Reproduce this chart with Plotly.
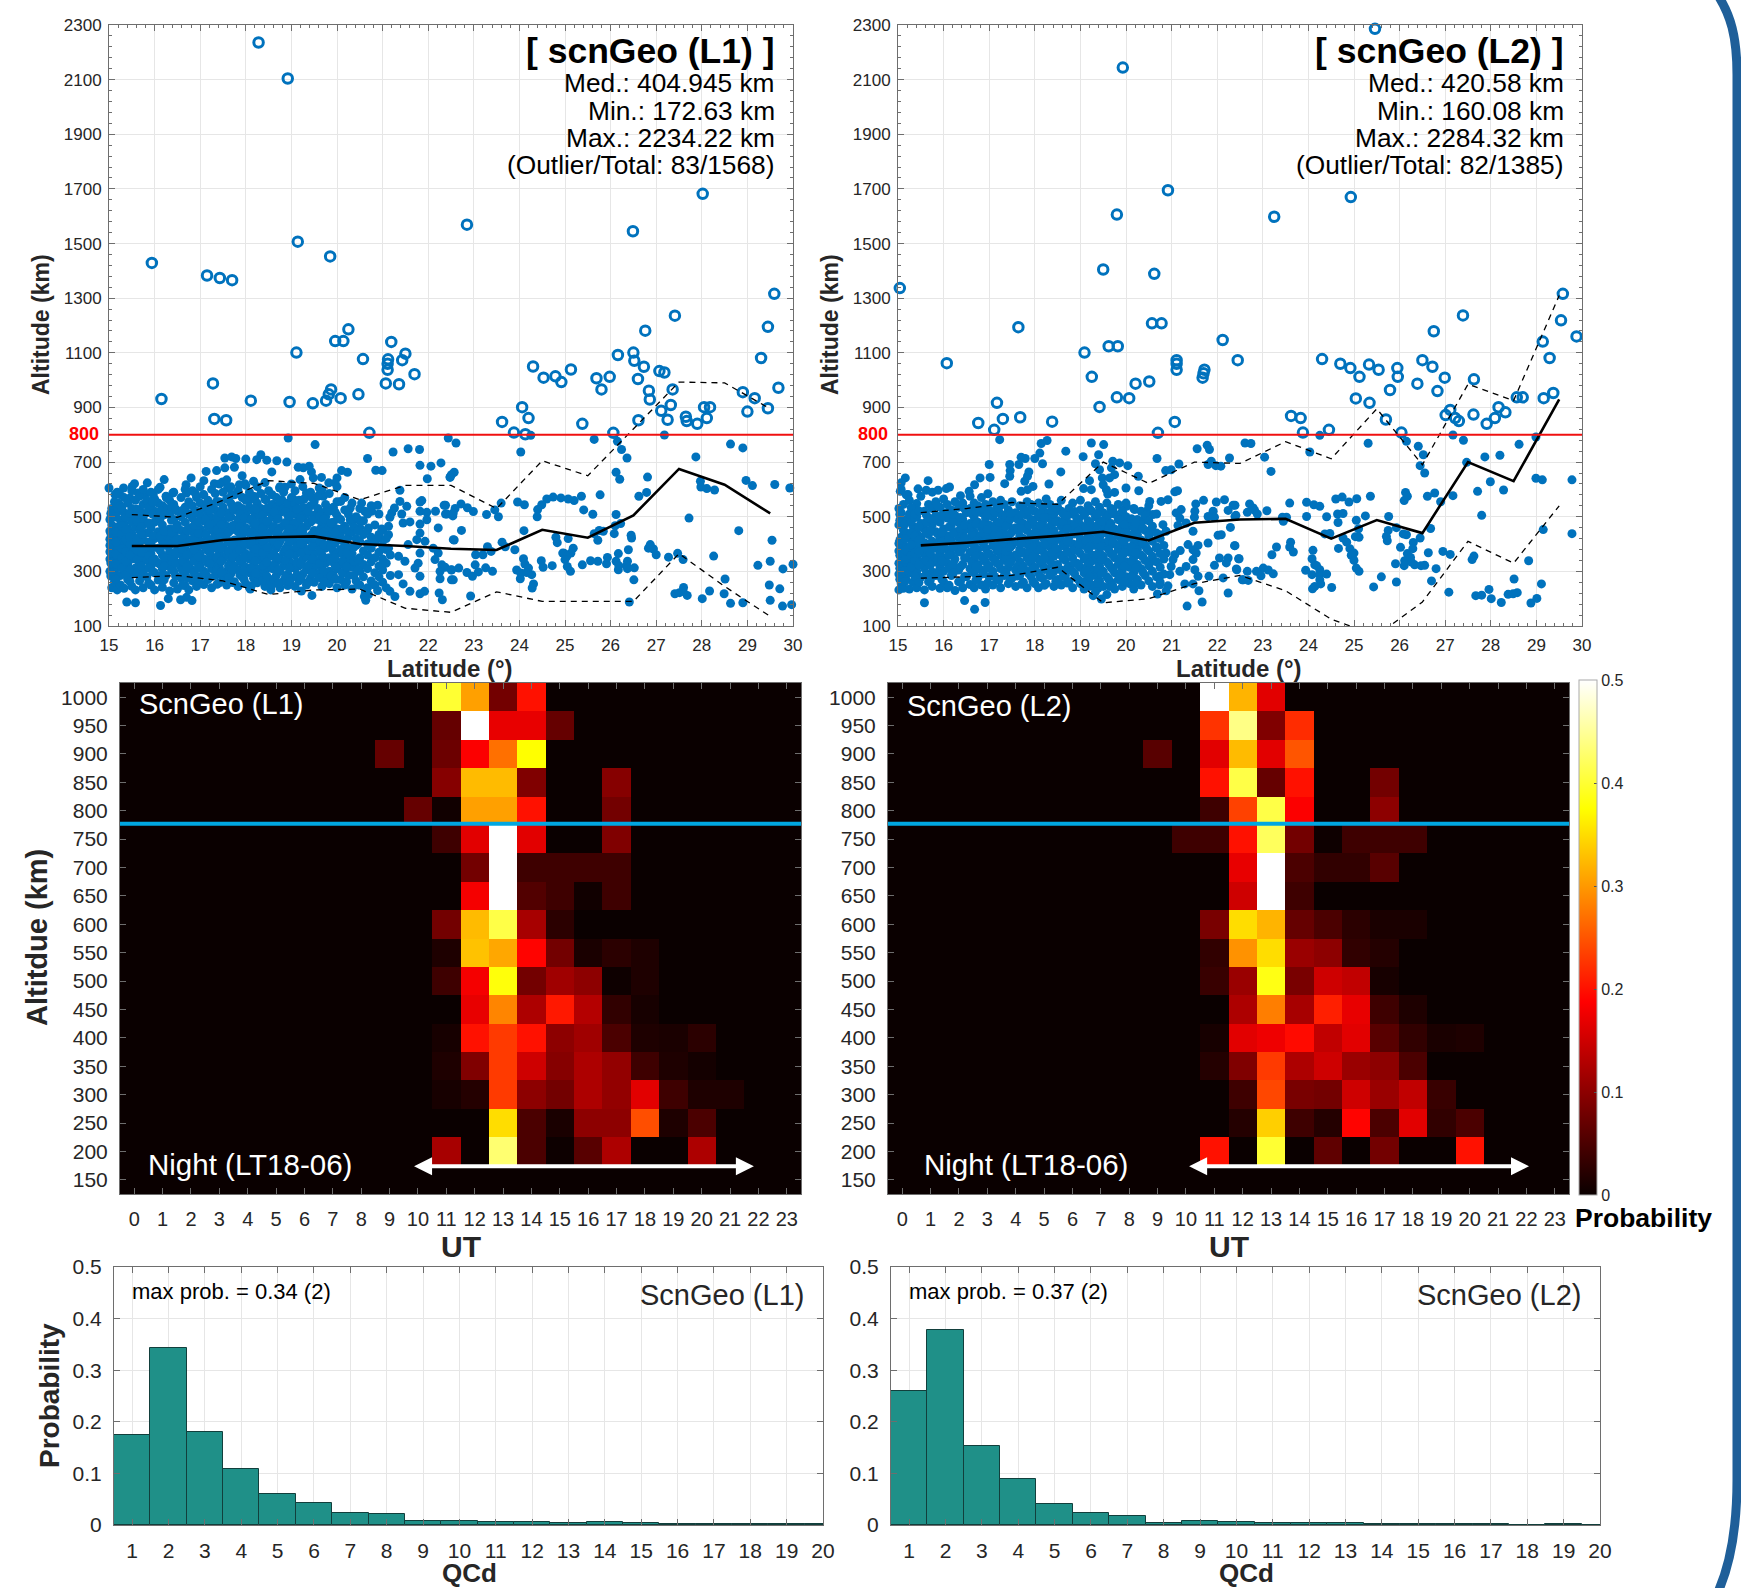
import plotly.graph_objects as go

W, H = 1741, 1588
FONT = "Liberation Sans"

# ---------- latitude / altitude scatter: outliers (open circles) ----------
L1_OUT = [(18.28,2236),(18.92,2104),(15.94,1429),(17.15,1383),(17.43,1374),(17.70,1366),(19.14,1507),(19.85,1453),(22.85,1569),(26.49,1545),(28.02,1682),(29.59,1316),(29.45,1195),(27.41,1236),(26.76,1181),(29.30,1081),(29.68,972),(28.90,956),(29.16,934),(29.0,885),(29.45,897),(28.05,901),(28.18,901),(28.11,861),(27.9,840),(27.65,866),(27.67,850),(27.11,888),(27.32,909),(27.25,855),(27.36,966),(27.07,1033),(27.18,1028),(26.73,1049),(26.84,961),(26.86,929),(26.61,853),(26.6,1004),(26.5,1101),(26.52,1071),(26.16,1092),(25.98,1012),(25.69,1007),(25.8,966),(26.06,807),(25.38,840),(25.13,1039),(24.92,993),(24.79,1014),(24.53,1009),(24.3,1050),(24.06,901),(24.2,861),(23.88,808),(24.13,802),(23.62,847),(20.71,807),(21.7,1022),(21.36,985),(21.07,988),(21.11,1038),(21.12,1076),(21.11,1060),(21.43,1073),(21.5,1097),(21.19,1140),(20.25,1186),(20.14,1143),(19.96,1143),(19.11,1101),(20.57,1077),(20.47,948),(20.08,934),(19.76,925),(19.82,948),(19.87,966),(19.47,915),(18.96,920),(18.11,925),(17.28,988),(17.31,858),(17.57,853),(16.15,931)]
L2_OUT = [(25.46,2286),(19.93,2144),(20.92,1695),(19.8,1606),(23.25,1598),(24.93,1670),(19.5,1405),(20.62,1389),(15.04,1337),(29.58,1316),(20.57,1208),(20.78,1208),(17.64,1194),(27.39,1237),(26.75,1179),(29.54,1219),(29.88,1160),(22.12,1147),(29.14,1141),(19.62,1124),(19.82,1124),(19.09,1101),(16.07,1062),(29.29,1081),(22.45,1073),(21.11,1073),(21.11,1060),(21.11,1038),(24.3,1077),(24.7,1060),(24.92,1044),(25.12,1012),(25.33,1057),(25.54,1038),(25.95,1044),(25.96,1012),(26.5,1073),(26.72,1049),(26.99,1009),(27.63,1003),(21.72,1038),(21.7,1025),(21.68,1009),(19.25,1012),(20.51,995),(20.21,987),(19.8,937),(20.07,934),(19.42,902),(17.17,917),(17.3,858),(17.68,864),(16.76,843),(17.11,818),(18.38,848),(21.07,847),(20.7,807),(23.62,869),(23.83,861),(23.88,808),(24.45,818),(25.04,933),(25.34,917),(25.7,856),(26.04,808),(25.79,964),(26.39,987),(26.83,960),(27.01,872),(27.11,891),(27.22,861),(27.3,850),(27.62,874),(27.91,840),(28.09,861),(28.17,901),(28.32,882),(28.57,937),(28.7,937),(29.16,934),(29.37,953)]

# ---------- filled points that can be read one by one ----------
L1_PTS = [(22.44,788),(22.61,770),(24.03,737),(24.25,798),(25.64,783),(26.15,776),(26.24,746),(26.36,715),(27.18,799),(28.63,766),(28.90,752),(27.87,719),(26.12,663),(26.2,637),(26.81,645),(22.57,663),(22.48,646),(28.97,633),(29.11,614),(29.6,618),(29.93,605),(27.97,630),(27.98,609),(28.11,603),(28.28,598),(26.79,589),(26.62,575),(25.77,580),(25.36,575),(25.2,559),(25.07,565),(24.91,569),(24.74,572),(24.6,565),(24.49,544),(24.4,526),(24.39,500),(24.11,544),(23.96,554),(23.6,550),(23.46,525),(23.54,500),(23.28,508),(22.99,519),(22.86,533),(22.72,547),(22.59,530),(22.54,503),(22.38,510),(22.38,542),(25.41,525),(25.61,509),(26.12,508),(26.22,475),(26.1,467),(26.08,438),(25.75,450),(25.64,438),(25.84,447),(25.72,414),(26.45,432),(26.46,422),(22.73,450),(22.57,415),(24.1,449),(23.62,407),(23.69,390),(23.9,379),(23.3,390),(23.38,373),(23.2,361),(23.04,361),(24.8,425),(24.83,405),(25.07,420),(25.18,385),(25.13,367),(24.98,366),(24.95,367),(25.04,355),(25.0,343),(25.05,318),(25.12,300),(24.48,339),(24.52,315),(24.72,321),(24.09,346),(24.12,327),(24.2,312),(23.94,305),(24.03,294),(24.16,296),(24.27,288),(24.02,273),(24.31,254),(24.28,239),(25.38,324),(25.56,339),(25.72,337),(25.91,328),(25.93,351),(26.12,337),(26.17,365),(26.18,321),(26.17,306),(26.37,337),(26.39,379),(26.35,321),(26.37,310),(26.52,313),(26.51,269),(26.83,385),(26.87,398),(26.94,382),(27.0,361),(27.27,352),(27.47,366),(27.59,343),(28.26,356),(27.72,495),(28.81,449),(29.54,414),(29.5,337),(29.23,322),(29.78,309),(30,326),(28.51,272),(29.48,250),(29.71,236),(28.17,228),(28.49,218),(28.01,200),(28.63,183),(28.9,185),(29.5,194),(29.77,173),(29.97,178),(27.41,218),(27.51,222),(27.6,241),(27.59,227),(27.68,212),(26.41,188),(22.93,210),(22.55,269),(22.37,315),(22.51,305),(22.67,312),(22.85,296),(22.97,282),(23.1,298),(23.03,324),(23.26,313),(23.41,300),
(18.93,788),(19.52,764),(20.67,713),(21.23,737),(21.56,749),(21.81,746),(21.82,688),(22.06,685),(22.28,697),(17.54,715),(17.69,719),(17.78,713),(18.0,711),(18.24,709),(18.33,727),(18.46,707),(18.68,705),(18.9,700),(17.54,679),(17.75,681),(17.36,669),(17.13,666),(18.57,664),(19.15,681),(19.26,679),(19.39,685),(19.44,664),(19.48,642),(19.66,644),(19.19,636),(20.1,669),(20.23,663),(20.0,642),(19.96,624),(19.82,624),(20.85,670),(20.99,669),(21.98,639),(22.51,654),(22.48,644),(16.8,642),(16.21,636),(15.84,624),(15.56,621),(15.51,611),(15.32,605),(15.0,605),(16.12,608),(16.69,617),(17.08,632),(17.31,621),(17.49,627),(17.6,605),(17.86,617),(17.98,621),(18.74,605),(18.86,608),(19.61,605),(19.33,587),(19.7,575),(19.28,565),(19.44,572),(19.04,565),(18.79,562),(18.44,562),(18.2,572),(18.09,562),(17.95,569),(17.69,581),(17.36,556),(17.07,581),(16.89,587),(16.7,587),(16.4,587),(16.26,569),(15.97,581),(15.79,581),(15.64,587),(15.46,569),(15.24,581),(15.13,581),(15.2,550),(15.13,522),
(20.08,556),(20.29,532),(20.54,550),(20.89,542),(21.38,597),(21.38,556),(21.53,538),(21.82,554),(21.86,559),(22.35,542),(21.26,532),(21.82,520),(21.97,516),(22.16,520),(22.41,510),(22.55,514),(21.2,514),(21.16,498),(21.42,510),(21.6,481),(21.45,477),(21.97,489),(21.82,473),(21.13,465),(22.22,459),(21.82,440),(21.13,434),(20.93,422),(20.98,455),(20.69,459),(20.61,520),(20.76,520),(20.47,489),(20.29,489),(20.03,495),(19.85,477),(19.63,493),(19.77,522),(19.59,526),(19.33,532),(22.55,416),(21.93,410),(21.75,416),(21.56,398),(21.13,385),(21.82,367),(22.11,385),(22.22,367),(22.15,343),(22.3,324),(21.78,330),(21.71,312),(21.35,355),(21.49,337),(21.35,288),(21.82,282),(22.26,300),(22.51,306),(22.51,269),(22.26,273),(21.45,254),(21.6,227),(21.82,218),(21.92,227),(22.24,221),(22.31,196),(21.16,227),(21.27,208),(20.89,230),(20.69,215),(20.63,194),
(15.39,188),(15.58,185),(16.13,175),(16.57,196),(16.7,205),(16.82,193),(16.3,200),(18.1,235),(18.55,232),(19.45,212),(19.22,228),(20.6,208),(20.62,225)]
L2_PTS = [(22.61,770),(22.74,768),(23.04,718),(23.18,666),(24.03,737),(24.25,798),(25.31,769),(26.15,776),(26.41,758),(26.52,727),(26.45,687),(26.55,660),(27.17,799),(27.4,780),(27.47,699),(27.87,719),(28.2,725),(28.62,765),(28.99,792),(27.99,628),(27.71,593),(28.28,598),(28.99,641),(29.13,635),(29.78,635),(27.17,577),(26.9,555),(26.77,587),(26.61,575),(26.13,589),(26.17,575),(26.1,559),(25.36,575),(25.06,566),(24.89,554),(24.74,572),(24.6,565),(24.25,538),(24.12,544),(23.96,553),(23.59,550),(22.71,547),(22.79,532),(22.82,523),(22.66,516),(22.88,510),(23.09,522),(22.39,542),(22.39,501),(23.45,483),(23.52,498),(23.43,498),(23.96,501),(24.4,500),(24.64,510),(24.76,512),(24.65,479),(25.05,487),(25.25,503),(25.76,501),(25.1,456),(25.75,450),(25.93,460),(24.36,437),(24.47,439),(24.76,422),(24.84,407),(25.03,427),(25.11,425),(25.71,428),(25.73,412),(26.08,437),(26.15,434),(26.68,457),(26.45,422),(26.3,406),(26.29,383),(26.02,388),(26.17,365),(26.63,368),(26.95,373),(27.11,362),(27.63,356),(27.59,343),(27.8,505),(29.15,453),(29.78,438),(28.83,339),(22.39,394),(22.47,346),(23.61,407),(23.59,389),(23.67,371),(23.3,389),(23.2,361),(24.1,377),(24.08,346),(24.14,324),(24.18,321),(24.25,306),(23.94,304),(24.08,288),(24.25,288),(24.4,290),(24.25,269),(24.27,254),(24.14,245),(24.09,236),(24.51,241),(24.66,384),(24.91,383),(25.0,367),(24.94,359),(25.0,340),(25.05,312),(25.11,300),(25.91,328),(26.1,321),(26.11,339),(26.24,351),(26.26,334),(26.33,324),(26.47,321),(26.55,322),(26.8,310),(26.7,265),(25.6,280),(25.93,261),(25.43,243),(27.08,224),(27.96,234),(28.51,272),(29.11,254),(27.67,211),(27.8,213),(28.01,200),(28.23,186),(28.38,216),(28.49,218),(28.58,222),(28.88,184),(29.01,201),(23.01,312),(23.12,305),(23.23,291),(22.86,300),(22.96,284),(22.66,300),(22.57,269),(22.68,267),(22.42,309),
(17.23,782),(18.14,768),(18.27,779),(18.11,733),(18.0,713),(18.17,694),(18.68,740),(19.24,770),(19.51,764),(19.4,727),(19.06,720),(17.7,718),(17.79,713),(17.45,691),(17.65,691),(17.0,691),(17.46,669),(17.02,644),(16.8,642),(16.68,617),(16.56,593),(17.87,664),(17.84,648),(17.78,630),(17.45,648),(17.34,621),(17.96,611),(17.84,599),(17.7,593),(18.31,620),(18.57,664),(19.71,703),(19.86,697),(20.04,687),(19.33,694),(19.68,679),(19.42,672),(19.2,632),(19.48,642),(19.5,617),(19.75,654),(19.64,642),(20.27,648),(19.07,603),(19.24,599),(19.57,599),(19.75,589),(19.6,583),(20.0,605),(20.28,595),(20.68,713),(20.87,669),(20.99,672),(21.16,693),(21.56,749),(21.78,762),(21.83,746),(21.87,703),(21.8,691),(21.97,687),(22.08,685),(22.27,715),(21.07,591),(21.13,595),(15.16,642),(15.07,624),(15.66,632),(15.05,593),(15.44,602),(15.62,597),(15.88,597),(16.06,603),(16.13,609),(16.97,584),(16.37,577),(15.22,581),
(22.35,542),(22.16,562),(22.24,523),(21.98,554),(21.7,560),(21.53,547),(21.51,520),(21.5,498),(21.91,520),(21.94,498),(21.8,501),(22.41,505),(20.92,562),(20.77,556),(20.52,556),(21.21,526),(21.1,514),(21.18,495),(21.14,468),(21.32,477),(21.47,447),(22.29,461),(22.02,432),(22.09,434),(21.8,404),(22.38,394),(21.58,395),(21.36,398),(21.47,379),(21.19,376),(21.54,367),(21.07,361),(21.03,343),(21.47,343),(22.05,349),(22.24,349),(22.48,346),(22.2,331),(21.94,322),(22.43,306),(22.13,276),(21.82,282),(22.55,269),(21.51,306),(21.58,282),(21.32,318),(21.18,300),(20.99,318),(20.96,288),(21.47,254),(21.29,254),(21.6,229),(22.24,221),(21.67,188),(21.34,173),(20.88,229),(20.69,217),(20.74,251),(20.92,247),(20.74,282),(20.56,337),(20.67,385),(20.88,367),(20.45,385),(20.15,373),(20.3,398),(20.74,434),(20.52,447),(20.23,453),(20.01,459),(20.41,489),(20.59,508),(20.19,526),(20.01,538),(19.93,508),(19.71,526),(19.57,483),(20.45,520),(20.81,471),(20.88,447),
(15.58,185),(16.46,193),(16.68,161),(16.91,186),(19.28,211),(19.46,199),(19.2,245),(19.39,239),(19.64,245),(19.09,263)]

# ---------- the packed part of the cloud, estimated by latitude column ----------
L1_CORE_LAT = [15.02,15.06,15.12,15.18,15.25,15.33,15.41,15.5,15.58,15.67,15.75,15.83,15.92,16.0,16.08,16.17,16.25,16.33,16.42,16.5,16.58,16.67,16.75,16.83,16.92,17.0,17.08,17.17,17.25,17.33,17.42,17.5,17.58,17.67,17.75,17.83,17.92,18.0,18.08,18.17,18.25,18.33,18.42,18.5,18.58,18.67,18.75,18.83,18.92,19.0,19.08,19.17,19.25,19.33,19.42,19.5,19.58,19.67,19.75,19.83,19.92,20.0,20.08,20.17,20.25,20.33,20.42,20.5,20.58,20.67,20.75,20.83,20.92,21.0,21.08,21.17]
L1_CORE_ALT = [[300,345,372,395,418,448,490],[240,325,360,385,410,470,530],[262,298,340,378,402,432,505,555],[232,315,350,388,425,462,520,590],[250,285,335,368,412,445,488,540],[238,305,355,392,430,475,515,570],[270,325,378,410,455,500,550],[245,292,345,385,438,480,530,595],[232,312,362,405,462,505,560],[265,330,390,425,450,525,575],[240,300,352,415,470,495,545,600],[280,340,380,440,515,560],[250,318,365,402,460,540,590],[232,295,345,420,480,520,565],[268,330,385,445,505,550,600],[242,310,360,410,470,540],[285,340,395,430,530,575],[228,320,372,415,455,510,560],[258,300,350,440,490,545,590],[235,330,380,420,470,520],[275,315,362,405,450,500,570],[248,295,345,390,430,480,535,600],[232,325,370,415,460,510,555],[265,305,355,400,445,495,540,595],[245,335,380,425,470,520,570],[280,320,365,410,455,505,550,610],[252,300,345,395,440,485,530,580],[270,330,375,420,465,515,560],[240,310,355,400,450,495,545,600],[285,335,385,430,475,525,585],[258,315,365,410,460,505,555,620],[275,345,390,440,485,535,590],[250,300,360,420,465,515,565,635],[290,335,380,450,500,550,610],[262,320,370,415,470,525,580],[245,305,350,400,445,490,540,595],[280,330,385,430,480,530,570,650],[255,315,365,410,460,510,560,615],[240,295,345,395,440,490,535,590],[275,325,375,425,470,520,575,630],[258,310,360,405,455,505,550,610],[285,340,390,435,480,530,585],[245,300,350,415,465,515,565,625],[270,325,375,425,475,525,595],[252,310,355,400,450,500,545,580],[285,335,385,440,490,535,570],[240,300,345,410,460,515,555,610],[265,320,370,425,470,530,590],[248,290,350,395,445,505,550],[275,330,380,430,480,525,570,620],[245,310,360,410,455,510,545,595],[265,320,375,420,470,520,560],[290,345,395,445,495,535,610],[250,305,355,415,465,510],[275,330,385,430,480,540,590],[260,315,365,410,450,505,555],[290,340,395,435,490,530,575],[245,310,360,420,470,515,600],[275,330,385,440,500,545],[255,300,350,400,460,520,585],[285,335,375,430,480,535],[240,310,365,415,455,505,555,610],[270,325,380,440,490],[250,300,350,400,465,525,570],[285,340,385,425,510],[235,315,365,445,480,550],[265,330,395,420,500],[250,300,350,410,460,530],[280,325,375,435,485],[240,310,360,400,450,510],[265,335,385,425,540],[250,295,350,405,470],[280,320,370,435,510],[260,305,345,395,450],[240,330,380,420],[285,360]]
L1_FILL_LAT = [15.04,15.15,15.28,15.37,15.46,15.61,15.71,15.87,15.96,16.12,16.21,16.37,16.46,16.61,16.71,16.87,16.96,17.12,17.21,17.37,17.46,17.62,17.71,17.87,17.96,18.12,18.21,18.37,18.46,18.62,18.71,18.87,18.96,19.12,19.21,19.37,19.46,19.62,19.71,19.87,19.96,20.12,20.21,20.37,20.46]
L1_FILL_ALT = [[283,331,367,397,439,512],[271,327,363,407,443,499],[313,349,383,437,467,533],[287,337,373,417,453,497],[263,307,359,399,427,513],[293,343,379,419,483,527],[279,319,369,437,463,511],[257,313,357,407,477,533],[299,341,387,431,509,553],[283,327,377,429,493,521],[269,319,351,397,447,507],[307,349,401,443,487,537],[283,329,367,411,459,529],[249,303,339,381,421,523],[277,317,361,403,451,513],[293,337,379,423,469,517],[269,311,353,397,439,481],[291,343,387,433,491,539],[277,329,371,413,473,523],[253,303,349,409,451,497],[297,337,383,427,471,513],[277,321,371,407,443,497],[259,309,353,397,467,533],[287,341,379,417,463,509],[271,301,353,399,449,497],[247,311,357,403,443,491],[293,339,381,429,477,529],[267,321,369,411,459,507],[283,333,387,437,483,531],[273,319,363,411,463,517],[257,307,351,397,447,493],[279,341,383,431,479,519],[263,311,363,409,457,503],[287,333,389,437,481,527],[273,327,369,401,449,493],[261,321,377,423,479,519],[293,345,391,437,487],[277,329,379,413,453,503],[263,301,351,397,443,491],[283,337,389,431,477],[271,321,349,403,443,517],[293,337,367,413,457],[261,317,367,417,451],[285,337,389,463],[251,307,343,401,449]]
L2_CORE_LAT = [15.02,15.07,15.12,15.18,15.25,15.33,15.41,15.5,15.58,15.67,15.75,15.83,15.92,16.0,16.08,16.17,16.25,16.33,16.42,16.5,16.58,16.67,16.75,16.83,16.92,17.0,17.08,17.17,17.25,17.33,17.42,17.5,17.58,17.67,17.75,17.83,17.92,18.0,18.08,18.17,18.25,18.33,18.42,18.5,18.58,18.67,18.75,18.83,18.92,19.0,19.08,19.17,19.25,19.33,19.42,19.5,19.58,19.67,19.75,19.83,19.92,20.0,20.08,20.17,20.25,20.33,20.42,20.5,20.58,20.67,20.75,20.83]
L2_CORE_ALT = [[232,290,330,375,402,470,530],[255,310,350,385,425,515,600],[238,280,365,395,450,545],[270,320,372,440,490,580],[235,295,345,388,420,510,560],[260,325,380,410,465,530],[240,300,352,395,440,500,548],[278,335,378,425,475,575],[232,312,362,405,455,520],[262,345,390,435,495,545],[245,298,352,410,470,530,590],[285,335,385,445,505,555],[238,318,365,420,480,535],[262,300,350,402,455,515,565],[240,330,380,430,495,545],[285,315,362,412,470,525],[230,345,395,445,505,555],[262,305,372,425,480,535],[240,325,385,435,490,550],[280,350,400,455,515],[252,310,370,420,475,530,575],[240,295,345,395,445,500,550],[275,325,380,430,480,540],[250,305,355,410,460,515,570],[235,335,385,435,495,545],[280,320,365,420,470,525],[250,300,350,395,445,500,555],[270,330,375,425,480,535],[240,310,360,405,455,510,560],[285,340,390,440,490,545],[255,315,365,415,470,525],[275,345,395,445,500,555],[245,305,360,410,460,515],[285,335,380,430,485,540],[260,320,370,420,475,530],[240,300,350,400,450,505,555],[280,330,385,435,490,545],[255,315,365,415,465,520],[240,295,345,395,445,500,550],[275,325,375,425,480,535],[255,310,360,410,460,515,565],[285,340,390,440,495,545],[245,300,355,405,450,510],[270,325,380,430,485,535],[250,305,360,415,465,520,560],[285,340,390,445,500],[262,320,370,425,475,530],[240,300,350,400,455,510,550],[275,330,385,440,495],[255,315,365,420,470,525,560],[235,295,345,395,450,505],[270,325,380,430,485,540],[250,305,360,415,465,520],[225,285,340,395,445,500,555],[265,320,370,425,480,535],[245,300,355,405,460,515],[215,280,335,390,440,495,550],[260,315,365,420,475,530],[235,295,350,400,455,510],[270,325,380,430,490,545],[245,305,360,415,465,520],[280,335,390,445,500,550],[255,315,370,425,480],[235,295,350,400,460,530],[270,325,380,435,490],[250,310,360,415,470,520],[285,340,395,450,505],[265,320,375,430,485,540],[245,300,355,410,465],[280,335,390,440,510],[260,315,365,420],[290,345,395]]
L2_FILL_LAT = [15.04,15.15,15.29,15.37,15.46,15.62,15.71,15.87,15.96,16.12,16.21,16.37,16.46,16.62,16.71,16.87,16.96,17.12,17.21,17.37,17.46,17.62,17.71,17.87,17.96,18.12,18.21,18.37,18.46,18.62,18.71,18.87,18.96,19.12,19.21,19.37,19.46,19.62,19.71,19.87,19.96,20.12,20.21,20.37]
L2_FILL_ALT = [[271,311,359,413,487,509],[263,303,343,379,419,473],[317,357,397,441,483,533],[283,341,367,429,497,511],[259,323,373,417,463,521],[291,339,383,443,481,507],[269,323,367,401,449,493],[297,351,397,437,487,539],[271,339,383,407,443,503],[249,311,359,417,463,519],[293,327,389,439,483,509],[263,317,371,407,457,497],[281,349,397,423,469,529],[299,333,373,437,463,511],[269,319,357,413,473,517],[291,347,403,441,471,527],[257,311,363,417,453,509],[281,341,393,433,463,517],[267,327,379,431,479,533],[293,351,373,419,467,507],[269,331,387,437,491,513],[283,319,361,409,451,491],[253,309,367,403,457,507],[291,343,373,417,471,521],[263,309,353,391,437,483],[279,337,379,431,469,513],[249,307,349,401,447,497],[291,327,369,417,473,523],[263,317,383,427,481,533],[281,347,399,441,483,511],[257,311,369,409,457,503],[293,331,379,437,473,519],[269,323,373,401,447,491],[249,303,351,413,463,517],[279,331,389,439,479,527],[257,309,363,417,467,509],[293,343,391,437,483],[271,327,379,413,459,507],[247,307,361,407,449,521],[283,339,401,443,487],[263,319,367,409,471],[283,337,389,433,493],[257,311,369,421,477],[297,353,403,457]]

# ---------- bin statistics per latitude bin ----------
BIN_LAT = [15.5,16.5,17.5,18.5,19.5,20.5,21.5,22.5,23.5,24.5,25.5,26.5,27.5,28.5,29.5]
L1_MED = [393,393,415,425,428,400,393,383,378,452,423,505,675,617,512]
L1_UP  = [508,498,560,632,622,562,615,615,530,705,650,820,993,990,895]
L1_LOW = [277,285,265,215,232,235,165,150,225,190,190,190,365,245,135]
L2_MED = [395,405,418,430,445,413,478,490,492,420,488,440,700,630,930]
L2_UP  = [515,530,552,545,700,622,700,695,775,712,895,690,985,925,1310]
L2_LOW = [275,280,285,315,185,200,255,285,229,125,65,188,410,330,540]

# ---------- UT / altitude occurrence ----------
UT = list(range(24))
ALT_BINS = [150,200,250,300,350,400,450,500,550,600,650,700,750,800,850,900,950,1000]
L1_HEAT = {
 1000:{11:.40,12:.305,13:.08,14:.20},
 950:{11:.07,12:.5,13:.17,14:.17,15:.07},
 900:{9:.07,11:.075,12:.185,13:.27,14:.375},
 850:{11:.095,12:.325,13:.325,14:.09,17:.095},
 800:{10:.07,11:.005,12:.305,13:.305,14:.20,17:.08},
 750:{11:.04,12:.165,13:.5,14:.165,17:.09},
 700:{12:.08,13:.5,14:.04,15:.04,16:.04,17:.04},
 650:{12:.18,13:.5,14:.055,15:.04,16:.005,17:.04},
 600:{11:.08,12:.325,13:.41,14:.12,15:.025},
 550:{11:.015,12:.33,13:.31,14:.19,15:.08,16:.012,17:.025,18:.015},
 500:{11:.04,12:.18,13:.38,14:.08,15:.115,16:.10,17:.003,18:.015},
 450:{12:.17,13:.285,14:.125,15:.205,16:.13,17:.03,18:.01},
 400:{11:.01,12:.20,13:.23,14:.20,15:.10,16:.115,17:.05,18:.015,19:.012,20:.025},
 350:{11:.015,12:.09,13:.23,14:.15,15:.095,16:.125,17:.105,18:.04,19:.015,20:.008},
 300:{11:.01,12:.02,13:.23,14:.10,15:.08,16:.125,17:.105,18:.165,19:.04,20:.015,21:.015},
 250:{13:.35,14:.05,15:.012,16:.10,17:.10,18:.245,19:.015,20:.05},
 200:{11:.12,13:.43,14:.05,15:.002,16:.06,17:.125,20:.125},
 150:{},
}
L2_HEAT = {
 1000:{11:.5,12:.32,13:.165},
 950:{11:.225,12:.44,13:.09,14:.22},
 900:{9:.06,11:.165,12:.325,13:.165,14:.25},
 850:{11:.20,12:.41,13:.07,14:.20,17:.08},
 800:{11:.04,12:.235,13:.41,14:.185,17:.10},
 750:{10:.04,11:.04,12:.20,13:.42,14:.08,15:.003,16:.04,17:.04,18:.04},
 700:{12:.17,13:.5,14:.05,15:.03,16:.03,17:.06},
 650:{12:.15,13:.5,14:.04},
 600:{11:.085,12:.35,13:.32,14:.07,15:.05,16:.025,17:.012,18:.012},
 550:{11:.03,12:.295,13:.35,14:.11,15:.10,16:.03,17:.02},
 500:{11:.035,12:.11,13:.385,14:.085,15:.15,16:.14,17:.01},
 450:{12:.125,13:.28,14:.12,15:.21,16:.17,17:.04,18:.015},
 400:{11:.01,12:.165,13:.175,14:.195,15:.14,16:.165,17:.06,18:.03,19:.012,20:.015},
 350:{11:.02,12:.09,13:.23,14:.125,15:.15,16:.11,17:.10,18:.05},
 300:{12:.04,13:.24,14:.085,15:.08,16:.15,17:.11,18:.14,19:.035},
 250:{12:.02,13:.34,14:.04,15:.02,16:.19,17:.05,18:.165,19:.03,20:.05},
 200:{11:.20,13:.40,15:.065,17:.08,20:.20},
 150:{},
}

# ---------- QCd histograms ----------
QCD = list(range(1,21))
L1_QCD = [.175,.343,.18,.108,.06,.042,.023,.021,.008,.008,.006,.005,.004,.005,.004,.001,.002,.001,.001,.001]
L2_QCD = [.26,.378,.153,.09,.041,.024,.017,.003,.008,.006,.004,.003,.003,.001,.002,.002,.001,0,.001,0]

BLUE = "#0072bd"
HOT = [[0,"#0a0000"],[.375,"#ff0000"],[.75,"#ffff00"],[1,"#ffffff"]]
AX = "#6e6e6e"; GRID = "#e6e6e6"; TXT = "#262626"

def dom_x(a, b): return [a / W, b / W]
def dom_y(top, bot): return [1 - bot / H, 1 - top / H]

def ann(x, y, text, size, bold=False, color="#000", xa="center", rot=0, fam=FONT):
    t = f"<b>{text}</b>" if bold else text
    return dict(x=x / W, y=1 - y / H, xref="paper", yref="paper", text=t, showarrow=False,
                font=dict(family=fam, size=size, color=color), xanchor=xa, yanchor="middle",
                textangle=rot)

fig = go.Figure()
layout = dict(width=W, height=H, autosize=False, margin=dict(l=0, r=0, t=0, b=0, autoexpand=False),
              paper_bgcolor="white", plot_bgcolor="white", showlegend=False, bargap=0)
anns, shapes = [], []

def base_axis(**kw):
    d = dict(linecolor=AX, linewidth=1, mirror="allticks", ticks="inside", tickcolor=AX,
             ticklen=6, tickfont=dict(family=FONT, size=17, color=TXT), zeroline=False,
             showgrid=False)
    d.update(kw)
    return d

def flatten(pts, clat, calt, flat, falt):
    xs = [p[0] for p in pts]; ys = [p[1] for p in pts]
    for la, al in list(zip(clat, calt)) + list(zip(flat, falt)):
        xs += [la] * len(al); ys += al
    return xs, ys

# ---- scatter panels
for n, (x0, pts, clat, calt, flat, falt, out, med, up, low, lbl, txts, r, redx) in enumerate([
    (109, L1_PTS, L1_CORE_LAT, L1_CORE_ALT, L1_FILL_LAT, L1_FILL_ALT, L1_OUT, L1_MED, L1_UP, L1_LOW, "L1",
     ["Med.: 404.945 km","Min.: 172.63 km","Max.: 2234.22 km","(Outlier/Total: 83/1568)"], 777, 101),
    (898, L2_PTS, L2_CORE_LAT, L2_CORE_ALT, L2_FILL_LAT, L2_FILL_ALT, L2_OUT, L2_MED, L2_UP, L2_LOW, "L2",
     ["Med.: 420.58 km","Min.: 160.08 km","Max.: 2284.32 km","(Outlier/Total: 82/1385)"], 1566, 890)]):
    i = n + 1
    xa, ya = ("x", "y") if i == 1 else (f"x{i}", f"y{i}")
    xs, ys = flatten(pts, clat, calt, flat, falt)
    fig.add_trace(go.Scatter(x=xs, y=ys, mode="markers", xaxis=xa, yaxis=ya, cliponaxis=False,
                             marker=dict(color=BLUE, size=9, line=dict(width=0))))
    fig.add_trace(go.Scatter(x=[p[0] for p in out], y=[p[1] for p in out], mode="markers",
                             xaxis=xa, yaxis=ya, cliponaxis=False,
                             marker=dict(symbol="circle-open", color=BLUE, size=9.5, line=dict(width=3, color=BLUE))))
    for v, w, dash in ((up, 1.3, "6px,5px"), (low, 1.3, "6px,5px"), (med, 2.6, "solid")):
        fig.add_trace(go.Scatter(x=BIN_LAT, y=v, mode="lines", xaxis=xa, yaxis=ya,
                                 line=dict(color="black", width=w, dash=dash)))
    layout[f"xaxis{'' if i == 1 else i}"] = base_axis(
        domain=dom_x(x0, x0 + 684), range=[15, 30], anchor=ya, tickvals=list(range(15, 31)),
        showgrid=True, gridcolor=GRID, minor=dict(ticks="inside", ticklen=3, tickcolor=AX, dtick=0.2, tick0=15),
        ticklabelstandoff=4)
    layout[f"yaxis{'' if i == 1 else i}"] = base_axis(
        domain=dom_y(25, 626), range=[100, 2300], anchor=xa, tickvals=list(range(100, 2301, 200)),
        showgrid=True, gridcolor=GRID, minor=dict(ticks="inside", ticklen=3, tickcolor=AX, dtick=40, tick0=100),
        ticklabelstandoff=3)
    shapes.append(dict(type="line", xref=f"{xa} domain", yref=ya, x0=0, x1=1, y0=800, y1=800,
                       line=dict(color="#f01010", width=2)))
    anns.append(ann(redx, 434, "800", 18, True, "#ff0000", "right"))
    anns.append(ann(r, 51, f"[ scnGeo ({lbl}) ]", 35.5, True, "#000", "right"))
    for t, yy in zip(txts, (83, 111, 138, 165)):
        anns.append(ann(r, yy, t, 26.3, False, "#000", "right"))
    anns.append(ann(x0 - 68, 325, "Altitude (km)", 23, True, TXT, "center", -90))
    anns.append(ann(x0 + 341, 668, "Latitude (°)", 24, True, TXT))

# ---- heat maps
for n, (x0, heat, lbl, ly, nx, ar0, ar1) in enumerate([(120, L1_HEAT, "L1", 704, 146, 9.81, 21.84),
                                                       (888, L2_HEAT, "L2", 706, 922, 10.06, 22.09)]):
    i = n + 3
    xa, ya = f"x{i}", f"y{i}"
    z = [[heat[a].get(u, 0) for u in UT] for a in ALT_BINS]
    tr = dict(x=UT, y=ALT_BINS, z=z, xaxis=xa, yaxis=ya, colorscale=HOT, zmin=0, zmax=.5, showscale=False)
    if i == 4:
        tr.update(showscale=True, colorbar=dict(
            x=1579 / W, xanchor="left", xref="container", y=1 - 680 / H, yanchor="top", yref="container",
            lenmode="pixels", len=515, thicknessmode="pixels", thickness=18, tickvals=[0, .1, .2, .3, .4, .5],
            ticktext=["0", "0.1", "0.2", "0.3", "0.4", "0.5"], ticks="inside", ticklen=3, tickcolor="#555",
            outlinewidth=1, outlinecolor="#aaa", tickfont=dict(family=FONT, size=16, color=TXT), ypad=0, xpad=0))
    fig.add_trace(go.Heatmap(**tr))
    layout[f"xaxis{i}"] = base_axis(domain=dom_x(x0, x0 + 681), range=[-0.5, 23.5], anchor=ya,
                                    tickvals=UT, ticklabelstandoff=7, tickfont=dict(family=FONT, size=20, color=TXT))
    layout[f"yaxis{i}"] = base_axis(domain=dom_y(683, 1194), range=[125, 1025], anchor=xa,
                                    tickvals=ALT_BINS, ticklabelstandoff=7, tickfont=dict(family=FONT, size=21, color=TXT))
    shapes.append(dict(type="line", xref=f"{xa} domain", yref=ya, x0=0, x1=1, y0=777, y1=777,
                       line=dict(color="#00a7e1", width=4)))
    anns.append(ann(x0 + 17, ly, f"ScnGeo ({lbl})", 29, False, "white", "left"))
    anns.append(ann(nx, 1164, "Night (LT18-06)", 29.5, False, "white", "left"))
    anns.append(dict(x=ar1, y=174, ax=ar0, ay=174, xref=xa, yref=ya, axref=xa, ayref=ya, text="",
                     showarrow=True, arrowhead=2, arrowside="end+start", arrowwidth=4, arrowsize=0.9,
                     arrowcolor="white", standoff=0, startstandoff=0))
    anns.append(ann(x0 + 341, 1246, "UT", 30, True, TXT))

anns.append(ann(37, 938, "Altitdue (km)", 29, True, TXT, "center", -90))
anns.append(ann(1573, 1218, "Probability", 26.5, True, "#000", "left"))

# ---- histograms
for n, (x0, vals, lbl, mp, tr_r) in enumerate([(114, L1_QCD, "L1", "max prob. = 0.34 (2)", 806),
                                              (891, L2_QCD, "L2", "max prob. = 0.37 (2)", 1583)]):
    i = n + 5
    xa, ya = f"x{i}", f"y{i}"
    fig.add_trace(go.Bar(x=QCD, y=vals, width=1, xaxis=xa, yaxis=ya,
                         marker=dict(color="#1f9088", line=dict(color="#123f3c", width=1))))
    layout[f"xaxis{i}"] = base_axis(domain=dom_x(x0, x0 + 709), range=[0.5, 20], anchor=ya,
                                    tickvals=QCD, showgrid=True, gridcolor=GRID, ticklabelstandoff=7,
                                    tickfont=dict(family=FONT, size=21, color=TXT))
    layout[f"yaxis{i}"] = base_axis(domain=dom_y(1267, 1525), range=[0, .5], anchor=xa,
                                    tickvals=[0, .1, .2, .3, .4, .5], ticktext=["0", "0.1", "0.2", "0.3", "0.4", "0.5"],
                                    showgrid=True, gridcolor=GRID, ticklabelstandoff=7,
                                    tickfont=dict(family=FONT, size=21, color=TXT))
    anns.append(ann(x0 + 16, 1291, mp, 22, False, "#000", "left"))
    anns.append(ann(tr_r, 1295, f"ScnGeo ({lbl})", 29, False, TXT, "right"))
    anns.append(ann(x0 + 355, 1573, "QCd", 26, True, TXT))
anns.append(ann(49, 1396, "Probability", 28, True, TXT, "center", -90))

# ---- frame curve at the right edge of the page
def px(x, y): return f"{x / W:.5f},{1 - y / H:.5f}"
shapes.append(dict(type="path", xref="paper", yref="paper", line=dict(color="#1f5f99", width=9),
                   path=f"M{px(1719, -3)} C{px(1730, 15)} {px(1737, 35)} {px(1737, 75)} L{px(1737, 1480)} "
                        f"C{px(1737, 1530)} {px(1730, 1565)} {px(1718, 1592)}"))

layout["annotations"] = anns
layout["shapes"] = shapes
fig.update_layout(**layout)
fig.write_html("out.html", config={"displayModeBar": False},
               post_script="document.body.style.margin='0';document.documentElement.style.overflow='hidden';")
